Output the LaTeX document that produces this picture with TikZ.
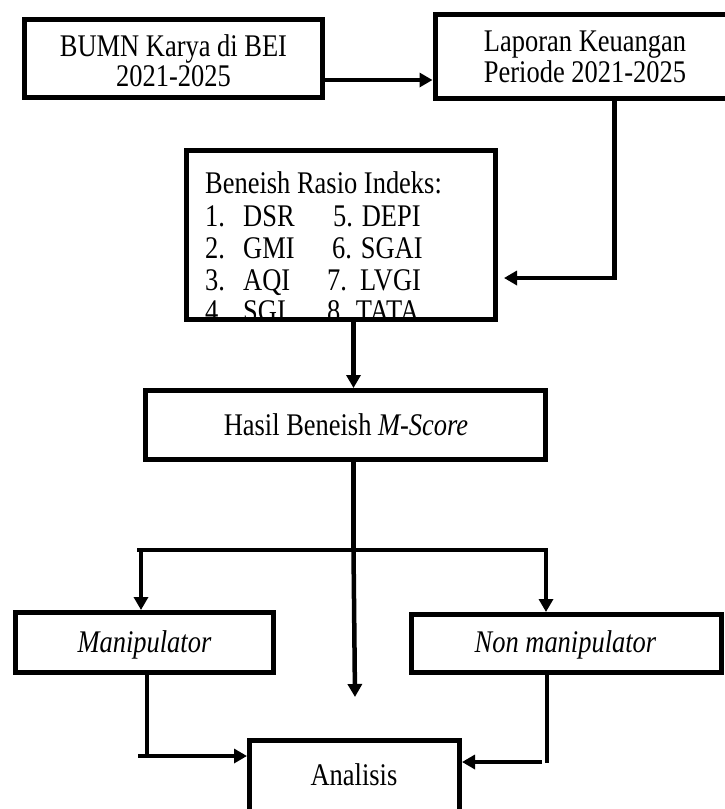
\documentclass[tikz,border=0pt]{standalone}
\usepackage{fontspec}
\setmainfont{Liberation Serif}[FakeStretch=0.84]
\usetikzlibrary{arrows.meta}
\begin{document}
\begin{tikzpicture}[x=1pt,y=-1pt,
  box/.style={draw, line width=5pt, inner sep=0pt, rectangle},
  lbl/.style={inner sep=0pt, anchor=base, font=\fontsize{31.5}{32}\selectfont},
  lbll/.style={lbl, anchor=base west},
  conn/.style={line width=4.5pt},
  arr/.style={conn, -{Triangle[length=13pt,width=14pt]}}]
\useasboundingbox (0,0) rectangle (724,809);
\fill[white] (0,0) rectangle (724,809);
% boxes
\node[box, minimum width=298pt, minimum height=78pt] (b1) at (173.5,58.5) {};
\node[box, minimum width=340pt, minimum height=84pt] (b2) at (605,56) {};
\node[box, minimum width=309pt, minimum height=169pt] (b3) at (341,235) {};
\node[box, minimum width=400pt, minimum height=69pt] (b4) at (345.5,425) {};
\node[box, minimum width=258pt, minimum height=60pt] (b5) at (144.5,642.5) {};
\node[box, minimum width=310pt, minimum height=58pt] (b6) at (566,643.5) {};
\node[box, minimum width=210pt, minimum height=87pt] (b7) at (354.5,784) {};
% texts
\node[lbl] (t1a) at (173.5,56) {BUMN Karya di BEI};
\node[lbl] (t1b) at (173.5,86) {2021-2025};
\node[lbl] (t2a) at (585,51) {Laporan Keuangan};
\node[lbl] (t2b) at (585,82) {Periode 2021-2025};
\begin{scope}
\clip (189,153) rectangle (493,317);
\node[lbll] (h3) at (205,193) {Beneish Rasio Indeks:};
\node[lbll] (n1) at (205,226) {1.};
\node[lbll] (w1) at (243,226) {DSR};
\node[lbll] (w5) at (333,226) {5. DEPI};
\node[lbll] (n2) at (205,258) {2.};
\node[lbll] (w2) at (243,258) {GMI};
\node[lbll] (w6) at (332,258) {6. SGAI};
\node[lbll] (n3) at (205,290) {3.};
\node[lbll] (w3) at (243,290) {AQI};
\node[lbll] (n7) at (327,290) {7.};
\node[lbll] (w7) at (360,290) {LVGI};
\node[lbll] (n4) at (205,321) {4.};
\node[lbll] (w4) at (243,321) {SGI};
\node[lbll] (w8) at (327,321) {8. TATA};
\end{scope}
\node[lbl] (t4) at (346,435) {Hasil Beneish \textit{M-Score}};
\node[lbl] (t5) at (144.5,652) {\textit{Manipulator}};
\node[lbl] (t6) at (565.5,652) {\textit{Non manipulator}};
\node[lbl] (t7) at (354,785) {Analisis};
% connectors
\coordinate (c1) at (0,80);
\draw[arr] (b1.east |- c1) -- (b2.west |- c1);
\coordinate (c2) at (614.5,278);
\draw[arr] (b2.south -| c2) -- (c2) -- ([xshift=6pt]b3.east |- c2);
\coordinate (c3) at (353.5,0);
\draw[arr] (b3.south -| c3) -- (b4.north -| c3);
\coordinate (br) at (353.5,550);
\coordinate (bl) at (137,550);
\coordinate (brr) at (548,550);
\coordinate (dl) at (141,550);
\coordinate (dr) at (546,550);
\coordinate (free) at (355,697);
\draw[conn] (b4.south -| br) -- (br);
\draw[conn] (bl) -- (brr);
\draw[arr] (dl) -- (b5.north -| dl);
\draw[arr] (dr) -- (b6.north -| dr);
\draw[arr] (br) -- (free);
\coordinate (m1) at (147,756);
\coordinate (m0) at (138,756);
\draw[conn] (b5.south -| m1) -- (m1);
\draw[arr] (m0) -- (b7.west |- m0);
\coordinate (n1c) at (547,763);
\coordinate (n0) at (542,762);
\draw[conn] (b6.south -| n1c) -- (n1c);
\draw[arr] (n0) -- (b7.east |- n0);
\end{tikzpicture}
\end{document}
